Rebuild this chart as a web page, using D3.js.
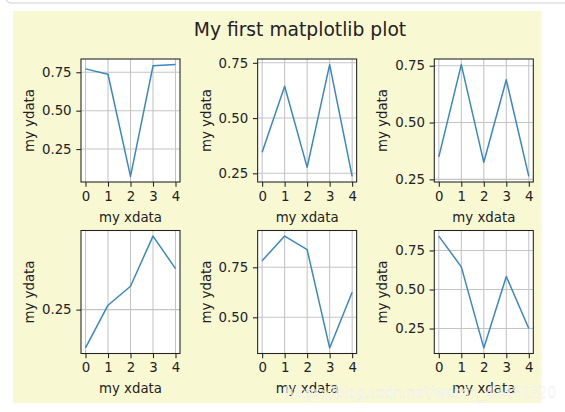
<!DOCTYPE html>
<html>
<head>
<meta charset="utf-8">
<script src="https://cdn.jsdelivr.net/npm/d3@7"></script>
<style>
  html, body { margin: 0; padding: 0; background: #ffffff; }
  svg { display: block; }
  text { font-family: "DejaVu Sans", sans-serif; }
</style>
</head>
<body>
<div id="chart"></div>
<script>
// ---- data ----
const titleText = "My first matplotlib plot";
const xLabelText = "my xdata";
const yLabelText = "my ydata";
const xValues = [0, 1, 2, 3, 4];
const xTicks = [0, 1, 2, 3, 4];

const ys1 = [0.772, 0.737, 0.072, 0.792, 0.800];
const ys2 = [0.345, 0.644, 0.277, 0.742, 0.236];
const ys3 = [0.349, 0.755, 0.325, 0.688, 0.263];
const ys4 = [0.137, 0.263, 0.319, 0.467, 0.371];
const ys5 = [0.783, 0.906, 0.838, 0.347, 0.625];
const ys6 = [0.842, 0.645, 0.126, 0.583, 0.250];

const yTicks1 = [0.25, 0.50, 0.75];
const yTicks2 = [0.25, 0.50, 0.75];
const yTicks3 = [0.25, 0.50, 0.75];
const yTicks4 = [0.25];
const yTicks5 = [0.50, 0.75];
const yTicks6 = [0.25, 0.50, 0.75];

const watermark = "https://blog.csdn.net/weixin_43481320";

// ---- layout ----
const W = 565, H = 412;
const svg = d3.select("#chart").append("svg").attr("width", W).attr("height", H);

// page frame line (notebook cell border)
svg.append("path")
  .attr("d", "M6.5,0 Q7,3 11,3 L565,3")
  .attr("fill", "none").attr("stroke", "#cfcfcf").attr("stroke-width", 1);

// figure background
svg.append("rect").attr("x", 13).attr("y", 11).attr("width", 528.5).attr("height", 392)
  .attr("fill", "#f8f8d3");

const textColor = "#222222";

svg.append("text").attr("x", 300).attr("y", 36)
  .attr("text-anchor", "middle").attr("font-size", 18.7).attr("fill", textColor)
  .text(titleText);

const panels = [
  { ys: ys1, ticks: yTicks1, col: 0, row: 0 },
  { ys: ys2, ticks: yTicks2, col: 1, row: 0 },
  { ys: ys3, ticks: yTicks3, col: 2, row: 0 },
  { ys: ys4, ticks: yTicks4, col: 0, row: 1 },
  { ys: ys5, ticks: yTicks5, col: 1, row: 1 },
  { ys: ys6, ticks: yTicks6, col: 2, row: 1 },
];

const axLeft0 = 81, colPitch = 176.65, axW = 99;
const axTop0 = 59, rowPitch = 171.5, axH = 123;
const fs = 13.33;
const tickLen = 4.7, tickPad = 4.7;
const fmt = d3.format(".2f");

panels.forEach(p => {
  const x0 = axLeft0 + p.col * colPitch;
  const y0 = axTop0 + p.row * rowPitch;
  const g = svg.append("g").attr("transform", `translate(${x0},${y0})`);

  const xs = d3.scaleLinear().domain([-0.2, 4.2]).range([0, axW]);
  const [mn, mx] = d3.extent(p.ys);
  const pad = (mx - mn) * 0.05;
  const ysc = d3.scaleLinear().domain([mn - pad, mx + pad]).range([axH, 0]);

  g.append("rect").attr("width", axW).attr("height", axH).attr("fill", "#ffffff");

  // grid
  g.selectAll(".gx").data(xTicks).enter().append("line")
    .attr("x1", d => xs(d)).attr("x2", d => xs(d)).attr("y1", 0).attr("y2", axH)
    .attr("stroke", "#c4c4c4").attr("stroke-width", 1.07);
  g.selectAll(".gy").data(p.ticks).enter().append("line")
    .attr("y1", d => ysc(d)).attr("y2", d => ysc(d)).attr("x1", 0).attr("x2", axW)
    .attr("stroke", "#c4c4c4").attr("stroke-width", 1.07);

  // line
  const line = d3.line().x((d, i) => xs(xValues[i])).y(d => ysc(d));
  g.append("path").datum(p.ys).attr("d", line)
    .attr("fill", "none").attr("stroke", "#3a88c0").attr("stroke-width", 1.5)
    .attr("stroke-linejoin", "round");

  // spines
  g.append("rect").attr("width", axW).attr("height", axH)
    .attr("fill", "none").attr("stroke", textColor).attr("stroke-width", 1.07);

  // x axis
  const xa = d3.axisBottom(xs).tickValues(xTicks).tickSize(tickLen).tickPadding(tickPad).tickFormat(d3.format("d"));
  const gx = g.append("g").attr("transform", `translate(0,${axH})`).call(xa);
  gx.select(".domain").remove();
  gx.selectAll("line").attr("stroke", textColor).attr("stroke-width", 1.07);
  gx.selectAll("text").attr("font-size", fs).attr("fill", textColor)
    .attr("font-family", "DejaVu Sans, sans-serif");

  // y axis
  const ya = d3.axisLeft(ysc).tickValues(p.ticks).tickSize(tickLen).tickPadding(tickPad).tickFormat(fmt);
  const gy = g.append("g").call(ya);
  gy.select(".domain").remove();
  gy.selectAll("line").attr("stroke", textColor).attr("stroke-width", 1.07);
  gy.selectAll("text").attr("font-size", fs).attr("fill", textColor)
    .attr("font-family", "DejaVu Sans, sans-serif");

  // labels
  g.append("text").attr("x", axW / 2).attr("y", axH + 39.5)
    .attr("text-anchor", "middle").attr("font-size", fs).attr("fill", textColor)
    .text(xLabelText);
  g.append("text").attr("transform", `translate(-47,${axH / 2}) rotate(-90)`)
    .attr("text-anchor", "middle").attr("font-size", fs).attr("fill", textColor)
    .text(yLabelText);
});

// watermark
svg.append("text").attr("x", 285).attr("y", 398)
  .attr("font-family", "Liberation Sans, Arial, sans-serif").attr("font-size", 16)
  .attr("textLength", 271).attr("lengthAdjust", "spacingAndGlyphs")
  .attr("fill", "#ffffff").attr("fill-opacity", 0.8)
  .attr("stroke", "#d8d8d8").attr("stroke-width", 0.4).attr("stroke-opacity", 0.6)
  .text(watermark);
</script>
</body>
</html>
